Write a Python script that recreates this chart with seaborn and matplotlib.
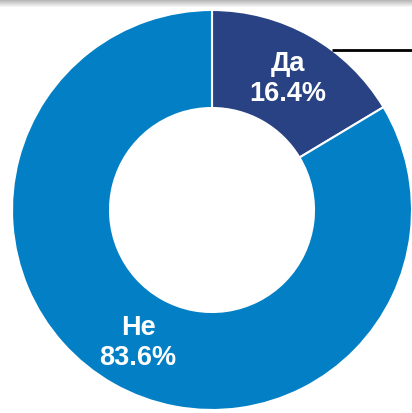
import numpy as np
import matplotlib
matplotlib.use("Agg")
import matplotlib.pyplot as plt
import seaborn as sns

sns.set_style("white")
plt.rcParams["font.family"] = ["Liberation Sans", "DejaVu Sans"]

# data
labels = ["Да", "Не"]
shares = [16.4, 83.6]
colors = ["#284283", "#0380C5"]

W, H = 412, 413
fig = plt.figure(figsize=(W / 100, H / 100), dpi=100)
ax = fig.add_axes([0, 0, 1, 1])

# donut, centre in pixel coords (y from bottom)
cx, cy = 212, H - 210
wedges, _ = ax.pie(
    shares,
    colors=colors,
    startangle=90,
    counterclock=False,
    radius=200,
    center=(cx, cy),
    frame=True,
    wedgeprops=dict(width=98, edgecolor="white", linewidth=1.5),
)

# labels inside the ring
ax.text(288, H - 79, f"{labels[0]}\n{shares[0]:.1f}%", ha="center", va="center",
        color="white", fontsize=19.5, fontweight="bold", linespacing=1.2)
ax.text(138, H - 343, f"{labels[1]}\n{shares[1]:.1f}%", ha="center", va="center",
        color="white", fontsize=19.5, fontweight="bold", linespacing=1.2)

# leader line from the small slice
ax.plot([332, W], [H - 50, H - 50], color="black", lw=2, solid_capstyle="butt")

# faint shadow along the top edge
grad = np.linspace(0.72, 1.0, 8).reshape(-1, 1)
ax.imshow(np.repeat(grad, 2, axis=1), cmap="gray", vmin=0, vmax=1,
          extent=(0, W, H - 8, H), aspect="auto", zorder=5)

ax.set_xlim(0, W)
ax.set_ylim(0, H)
ax.set_aspect("equal")
ax.axis("off")

fig.savefig("out.png", dpi=100)
